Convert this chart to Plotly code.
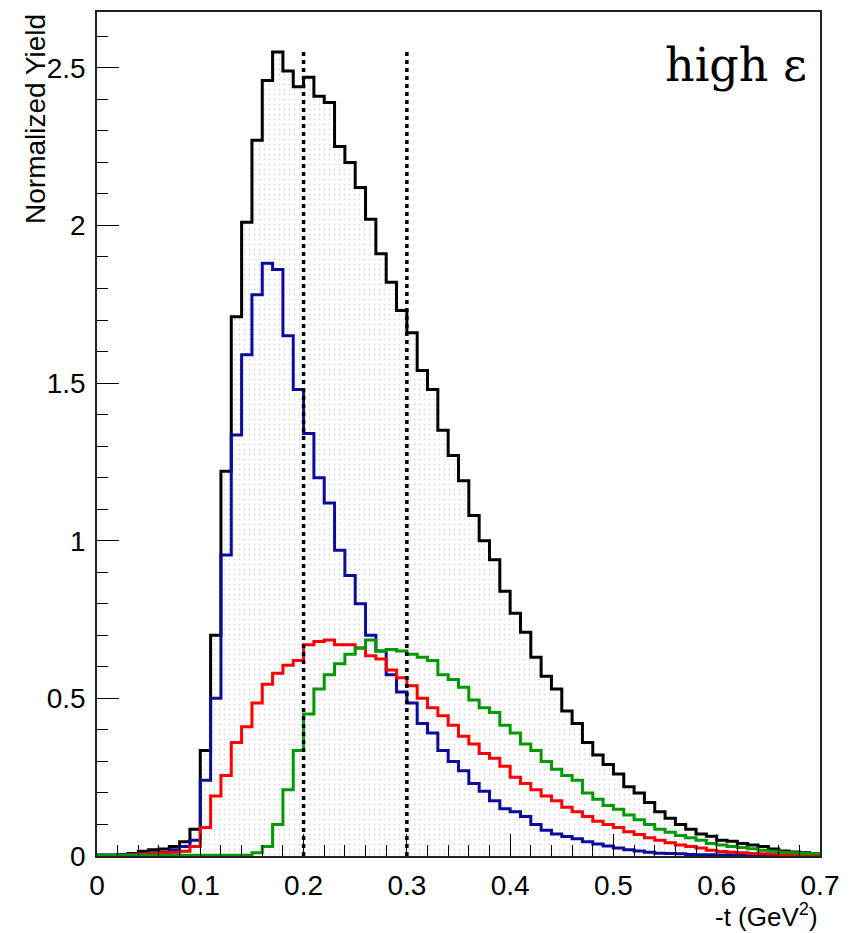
import plotly.graph_objects as go

# Bin lower edges: 0.00 .. 0.69, width 0.01
bin_width = 0.01
n_bins = 70
edges = [round(i * bin_width, 2) for i in range(n_bins + 1)]

total = [0.002, 0.002, 0.004, 0.008, 0.015, 0.02, 0.022, 0.03, 0.045, 0.085,
         0.335, 0.70, 1.22, 1.71, 2.01, 2.27, 2.46, 2.55, 2.49, 2.44,
         2.47, 2.41, 2.39, 2.25, 2.20, 2.12, 2.02, 1.91, 1.82, 1.73,
         1.66, 1.54, 1.48, 1.35, 1.27, 1.19, 1.08, 1.00, 0.94, 0.84,
         0.77, 0.71, 0.63, 0.57, 0.53, 0.46, 0.42, 0.36, 0.32, 0.29,
         0.26, 0.22, 0.20, 0.17, 0.14, 0.12, 0.10, 0.085, 0.07, 0.063,
         0.05, 0.047, 0.04, 0.035, 0.03, 0.022, 0.016, 0.013, 0.01, 0.008]

blue_vals = [0.003, 0.003, 0.004, 0.006, 0.008, 0.01, 0.012, 0.02, 0.03, 0.05,
             0.24, 0.50, 0.955, 1.335, 1.59, 1.78, 1.88, 1.86, 1.65, 1.48,
             1.34, 1.20, 1.12, 0.97, 0.89, 0.80, 0.70, 0.65, 0.575, 0.52,
             0.485, 0.42, 0.39, 0.335, 0.30, 0.27, 0.23, 0.205, 0.175, 0.15,
             0.14, 0.125, 0.10, 0.082, 0.07, 0.062, 0.055, 0.045, 0.038, 0.032,
             0.025, 0.02, 0.016, 0.012, 0.009, 0.008, 0.007, 0.005, 0.004, 0.004,
             0.003, 0.003, 0.002, 0.002, 0.002, 0.001, 0.001, 0.001, 0.001, 0.001]

red_vals = [0.001, 0.001, 0.001, 0.004, 0.006, 0.008, 0.01, 0.012, 0.015, 0.03,
            0.09, 0.19, 0.255, 0.36, 0.41, 0.485, 0.545, 0.58, 0.605, 0.62,
            0.67, 0.68, 0.685, 0.67, 0.67, 0.66, 0.635, 0.625, 0.59, 0.565,
            0.54, 0.50, 0.47, 0.445, 0.415, 0.38, 0.355, 0.325, 0.31, 0.285,
            0.25, 0.23, 0.21, 0.19, 0.175, 0.155, 0.14, 0.125, 0.11, 0.10,
            0.09, 0.077, 0.068, 0.058, 0.05, 0.042, 0.035, 0.03, 0.025, 0.018,
            0.014, 0.012, 0.01, 0.008, 0.007, 0.006, 0.004, 0.004, 0.003, 0.003]

green_vals = [0.002, 0.002, 0.002, 0.002, 0.002, 0.002, 0.002, 0.002, 0.002, 0.002,
              0.002, 0.002, 0.002, 0.002, 0.002, 0.01, 0.03, 0.10, 0.21, 0.335,
              0.45, 0.53, 0.575, 0.61, 0.64, 0.66, 0.685, 0.65, 0.655, 0.65,
              0.64, 0.63, 0.62, 0.575, 0.56, 0.535, 0.495, 0.47, 0.455, 0.415,
              0.39, 0.355, 0.335, 0.30, 0.275, 0.255, 0.24, 0.20, 0.18, 0.16,
              0.148, 0.13, 0.115, 0.10, 0.085, 0.075, 0.065, 0.058, 0.05, 0.04,
              0.035, 0.03, 0.027, 0.023, 0.018, 0.015, 0.012, 0.01, 0.008, 0.008]

t_cuts = [0.2, 0.3]

x_range = [0.0, 0.7]
y_range = [0.0, 2.677]


def step_xy(vals):
    return edges, list(vals) + [vals[-1]]


fig = go.Figure()

xs, ys = step_xy(total)
fig.add_trace(go.Scatter(
    x=xs, y=ys, mode="lines", line=dict(shape="hv", color="black", width=3),
    fill="tozeroy", fillcolor="white",
    fillpattern=dict(shape=".", fgcolor="#b0b0b0", bgcolor="white", size=5, solidity=0.1),
    showlegend=False, hoverinfo="skip"))

for vals, col in [(blue_vals, "#0c0c9c"), (red_vals, "#ff0000"), (green_vals, "#009a00")]:
    xs, ys = step_xy(vals)
    fig.add_trace(go.Scatter(
        x=xs, y=ys, mode="lines", line=dict(shape="hv", color=col, width=3),
        showlegend=False, hoverinfo="skip"))

ymax_line = max(total)
for tc in t_cuts:
    fig.add_shape(type="line", x0=tc, x1=tc, y0=0, y1=ymax_line, xref="x", yref="y",
                  line=dict(color="black", width=3.5, dash="4px,4px"), layer="above")

font_sans = "Liberation Sans, Arial, sans-serif"

# the page body adds an 8px margin; size the figure so the whole fits the window
fig.update_layout(
    width=844, height=925,
    margin=dict(l=89, r=32, t=2, b=77),
    paper_bgcolor="white", plot_bgcolor="white",
    font=dict(family=font_sans, size=28, color="black"),
    xaxis=dict(
        range=x_range, dtick=0.1, tick0=0, ticks="inside", ticklen=22, tickwidth=1,
        tickcolor="black", showline=True, linecolor="#222", linewidth=1.5, mirror=True,
        showgrid=False, zeroline=False, tickfont=dict(size=28),
        minor=dict(ticks="inside", ticklen=11, dtick=0.02, tickcolor="black", tickwidth=1, showgrid=False),
        ticklabelstandoff=4,
    ),
    yaxis=dict(
        range=y_range, dtick=0.5, tick0=0, ticks="inside", ticklen=22, tickwidth=1,
        tickcolor="black", showline=True, linecolor="#222", linewidth=1.5, mirror=True,
        showgrid=False, zeroline=False, tickfont=dict(size=28),
        minor=dict(ticks="inside", ticklen=11, dtick=0.1, tickcolor="black", tickwidth=1, showgrid=False),
        ticklabelstandoff=4,
    ),
    annotations=[
        dict(text="Normalized Yield", xref="paper", yref="paper", x=-0.0858, y=1.0,
             xanchor="center", yanchor="top", textangle=-90, showarrow=False,
             font=dict(family=font_sans, size=28)),
        dict(text="-t (GeV<sup>2</sup>)", xref="paper", yref="paper", x=1.0, y=-0.070,
             xanchor="right", yanchor="middle", showarrow=False,
             font=dict(family=font_sans, size=26)),
        dict(text="high ε", xref="paper", yref="paper", x=0.985, y=0.937,
             xanchor="right", yanchor="middle", showarrow=False,
             font=dict(family="DejaVu Serif, serif", size=46)),
    ],
)

fig.write_html("out.html")
